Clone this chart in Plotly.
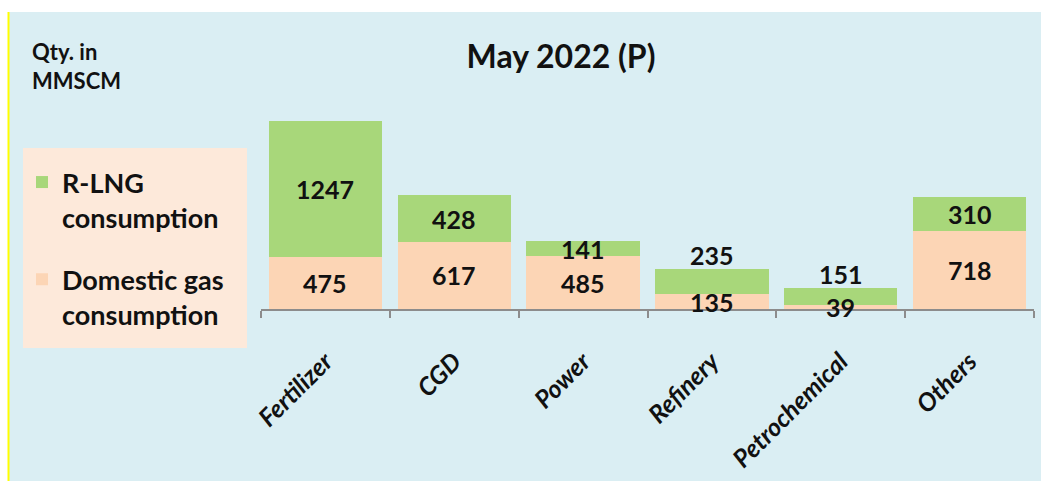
import plotly.graph_objects as go

categories = ["Fertilizer", "CGD", "Power", "Refinery", "Petrochemical", "Others"]
domestic = [475, 617, 485, 135, 39, 718]
rlng = [1247, 428, 141, 235, 151, 310]

W, H = 1041, 481
ML, MR, MT, MB = 261, 7, 113, 172
PW, PH = W - ML - MR, H - MT - MB
YMAX = 1800


def px(xp):
    return (xp - ML) / PW


def py(yp):
    return (H - MB - yp) / PH


GREEN = "#A8D77A"
PEACH = "#FCD5B5"
BG = "#DAEEF3"
LEGBG = "#FDE9DA"
FONT = "Lato"
TXT = "#111111"

fig = go.Figure()
fig.add_trace(go.Bar(x=categories, y=domestic, name="Domestic gas<br>consumption",
                     legendgroup="dom", legendrank=2,
                     marker=dict(color=PEACH, line=dict(width=0))))
fig.add_trace(go.Bar(x=categories, y=rlng, name="R-LNG<br>consumption",
                     legendgroup="rlng", legendrank=1,
                     marker=dict(color=GREEN, line=dict(width=0))))

annotations = []
for c, d, r in zip(categories, domestic, rlng):
    total = d + r
    annotations.append(dict(x=c, y=d / 2, text=f"<b>{d}</b>", showarrow=False,
                            xref="x", yref="y", yanchor="middle",
                            font=dict(family=FONT, size=25, color=TXT)))
    if total < 400:
        annotations.append(dict(x=c, y=total, text=f"<b>{r}</b>", showarrow=False,
                                xref="x", yref="y", yanchor="middle", yshift=14,
                                font=dict(family=FONT, size=25, color=TXT)))
    else:
        annotations.append(dict(x=c, y=d + r / 2, text=f"<b>{r}</b>", showarrow=False,
                                xref="x", yref="y", yanchor="middle",
                                font=dict(family=FONT, size=25, color=TXT)))

annotations.append(dict(x=px(30), y=py(36), xref="paper", yref="paper",
                        xanchor="left", yanchor="top", align="left", showarrow=False,
                        text="<b>Qty. in<br>MMSCM</b>",
                        font=dict(family=FONT, size=22, color=TXT)))

shapes = [
    dict(type="rect", xref="paper", yref="paper", x0=px(-5), x1=px(W + 5), y0=py(12), y1=py(-5),
         fillcolor="white", line=dict(width=0), layer="below"),
    dict(type="rect", xref="paper", yref="paper", x0=px(-5), x1=px(8), y0=py(H + 5), y1=py(-5),
         fillcolor="white", line=dict(width=0), layer="below"),
    dict(type="line", xref="paper", yref="paper", x0=px(8.5), x1=px(8.5), y0=py(H + 5), y1=py(12),
         line=dict(color="#FFFF00", width=2), layer="below"),
    dict(type="rect", xref="paper", yref="paper", x0=px(23), x1=px(247), y0=py(348), y1=py(148),
         fillcolor=LEGBG, line=dict(width=0), layer="below"),
]

fig.update_layout(
    width=W, height=H,
    margin=dict(l=ML, r=MR, t=MT, b=MB, pad=0, autoexpand=False),
    paper_bgcolor=BG, plot_bgcolor=BG,
    barmode="stack", bargap=0.12,
    title=dict(text="<b>May 2022 (P)</b>", x=561 / W, xanchor="center",
               y=1 - 57 / H, yanchor="middle", yref="container",
               font=dict(family=FONT, size=32, color=TXT)),
    showlegend=True,
    legend=dict(x=px(22), y=py(158), xanchor="left", yanchor="top",
                bgcolor="rgba(0,0,0,0)", traceorder="grouped", valign="top",
                font=dict(family=FONT, size=27, color=TXT, weight="bold"),
                tracegroupgap=24, itemsizing="constant"),
    xaxis=dict(showline=True, linecolor="#8C8C8C", linewidth=2, automargin=False,
               ticks="outside", tickson="boundaries", ticklen=7, tickcolor="#8C8C8C", tickwidth=2,
               tickangle=-45, ticklabelstandoff=26,
               tickfont=dict(family=FONT, size=25, color=TXT, weight="bold", style="italic"),
               showgrid=False, zeroline=False),
    yaxis=dict(range=[0, YMAX], visible=False, showgrid=False, zeroline=False, automargin=False),
    annotations=annotations,
    shapes=shapes,
)

fig.write_html("out.html", config={"displayModeBar": False},
               post_script="document.body.style.margin='0px';document.body.style.overflow='hidden';")
